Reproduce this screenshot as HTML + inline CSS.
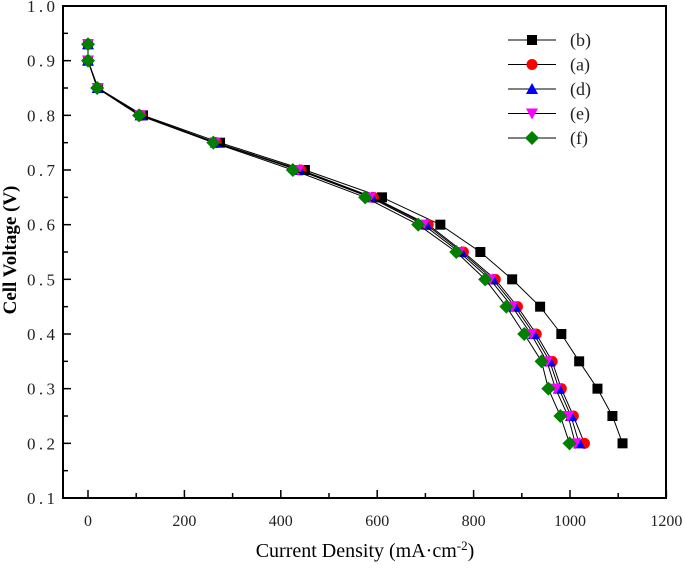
<!DOCTYPE html>
<html><head><meta charset="utf-8"><style>
body{margin:0;background:#fff;}
svg text{font-family:"Liberation Serif","Noto Serif CJK SC",serif;}
</style></head><body>
<svg id="chart" width="685" height="563" xmlns="http://www.w3.org/2000/svg"></svg>
<script>
const voltages=[0.93,0.9,0.85,0.8,0.75,0.7,0.65,0.6,0.55,0.5,0.45,0.4,0.35,0.3,0.25,0.2];
const seriesB=[0,0,21,114,274,450,610,731,814,880,938,982,1019,1057,1088,1109];
const seriesA=[0,0,20,110,266,442,592,706,779,845,891,930,963,982,1007,1030];
const seriesD=[0,0,20,109,265,439,589,702,775,840,886,925,958,977,1002,1019];
const seriesE=[0,0,20,108,263,436,585,696,770,834,880,919,952,970,996,1011];
const seriesF=[0,0,19,106,260,425,575,685,764,824,868,905,941,955,980,999];
const xTicks=[0,200,400,600,800,1000,1200];
const yTicks=[0.1,0.2,0.3,0.4,0.5,0.6,0.7,0.8,0.9,1.0];
const legendLabels=["(b)","(a)","(d)","(e)","(f)"];

const L=63,R=666,T=6,B=498;
const xs=v=>88+v*(570-88)/1000;
const ys=v=>T+(1.0-v)*(B-T)/0.9;
const svg=document.getElementById('chart');
const NS='http://www.w3.org/2000/svg';
function mk(tag,attrs,parent){const e=document.createElementNS(NS,tag);for(const k in attrs)e.setAttribute(k,attrs[k]);(parent||svg).appendChild(e);return e;}

const frame=mk('rect',{x:L,y:T,width:R-L,height:B-T,fill:'none',stroke:'#000','stroke-width':2});



for(let v=0;v<=1200;v+=100){
  const major=v%200===0;
  const t=mk('line',{x1:xs(v),x2:xs(v),y1:B,y2:B-(major?8:5),stroke:'#000','stroke-width':1.5});
  
  
}
xTicks.forEach(v=>{
  const t=mk('text',{x:xs(v),y:B+28,'text-anchor':'middle','font-size':16,fill:'#222'});
  t.textContent=String(v);
  
  
});
for(let i=2;i<=20;i++){
  const v=i*0.05;
  const major=i%2===0;
  const t=mk('line',{x1:L,x2:L+(major?8:5),y1:ys(v),y2:ys(v),stroke:'#000','stroke-width':1.5});
  
  
}
yTicks.forEach(v=>{
  const t=mk('text',{x:L-8,y:ys(v)+6,'text-anchor':'end','font-size':17,fill:'#222'});
  t.textContent=v.toFixed(1).split('').join('\u2009');
  
  
});
const xt=mk('text',{x:365,y:557,'text-anchor':'middle','font-size':20,fill:'#000'});
xt.innerHTML='Current Density (mA·cm<tspan dy="-7" font-size="13">-2</tspan><tspan dy="7">)</tspan>';


const yt=mk('text',{x:0,y:0,'text-anchor':'middle','font-size':19,'font-weight':'bold',transform:'translate(16,250) rotate(-90)',fill:'#000'});
yt.textContent='Cell Voltage (V)';



function marker(kind,color,x,y,parent){
  let e;
  if(kind==='square')e=mk('rect',{x:x-5,y:y-5,width:10,height:10,fill:color},parent);
  else if(kind==='circle')e=mk('circle',{cx:x,cy:y,r:5.5,fill:color},parent);
  else if(kind==='up')e=mk('polygon',{points:`${x},${y-6} ${x-6},${y+5} ${x+6},${y+5}`,fill:color},parent);
  else if(kind==='down')e=mk('polygon',{points:`${x},${y+6} ${x-6},${y-5} ${x+6},${y-5}`,fill:color},parent);
  else e=mk('polygon',{points:`${x},${y-7} ${x+7},${y} ${x},${y+7} ${x-7},${y}`,fill:color},parent);
  return e;
}
const defs=[
  {name:'b',data:seriesB,kind:'square',color:'#000'},
  {name:'a',data:seriesA,kind:'circle',color:'#ff0000'},
  {name:'d',data:seriesD,kind:'up',color:'#0000ff'},
  {name:'e',data:seriesE,kind:'down',color:'#ff00ff'},
  {name:'f',data:seriesF,kind:'diamond',color:'#007f00'}
];
defs.forEach(s=>{
  const g=mk('g',{});
  
  
  const pts=s.data.map((v,i)=>xs(v)+','+ys(voltages[i])).join(' ');
  const ln=mk('polyline',{points:pts,fill:'none',stroke:'#000','stroke-width':1},g);
  
  
  s.data.forEach((v,i)=>{
    const m=marker(s.kind,s.color,xs(v),ys(voltages[i]),g);
    
    
  });
});
const lg=mk('g',{});


defs.forEach((s,i)=>{
  const y=40+i*24.5;
  const e=mk('g',{},lg);
  
  
  mk('line',{x1:508,x2:556,y1:y,y2:y,stroke:'#000','stroke-width':1},e);
  marker(s.kind,s.color,532,y,e);
  const t=mk('text',{x:570,y:y+6,'font-size':18,fill:'#222'},e);
  t.textContent=legendLabels[i];
});
</script>
</body></html>
